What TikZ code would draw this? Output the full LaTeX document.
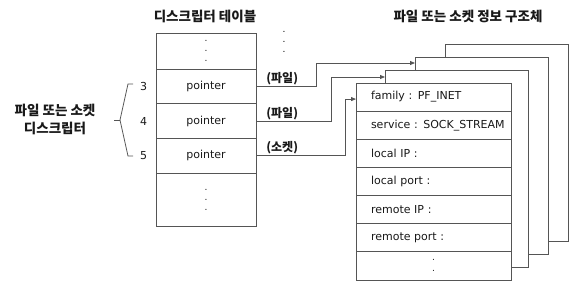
\documentclass[tikz,border=0pt]{standalone}
\usepackage{fontspec}
\newfontfamily\krfont{Noto Sans CJK KR}
\newfontfamily\cellfont{DejaVu Sans}
\usetikzlibrary{arrows.meta,positioning,calc}
\definecolor{edge}{RGB}{85,85,85}
\definecolor{ink}{RGB}{25,25,25}
\tikzset{cell/.style={draw=edge,line width=0.8pt,minimum width=100pt,minimum height=34.7pt,inner sep=0pt,outer sep=0pt,align=center,text=ink,font=\cellfont\fontsize{11}{12}\selectfont},field/.style={draw=edge,line width=0.8pt,fill=white,minimum height=28.14pt,text width=125pt,inner xsep=15pt,inner ysep=0pt,outer sep=0pt,align=left,text=ink,font=\cellfont\fontsize{11}{12}\selectfont},sheet/.style={draw=edge,line width=0.8pt,fill=white,anchor=north west,inner sep=0pt,outer sep=0pt,minimum height=197pt},ptr/.style={-{Triangle[length=5pt,width=4pt]},line width=0.8pt,draw=edge},lbl/.style={font=\krfont\bfseries\fontsize{12}{14}\selectfont,inner sep=1pt,text=ink},title/.style={font=\krfont\bfseries\fontsize{13.5}{18}\selectfont,align=center,text=ink},dotfont/.style={font=\cellfont\fontsize{9}{10}\selectfont}}

\begin{document}
\begin{tikzpicture}[x=1pt,y=-1pt]
\useasboundingbox (0,0) rectangle (580,290);
\node[title] (ttab) at (205,16) {디스크립터 테이블};
\node[title] (tstr) at (468,16) {파일 또는 소켓 정보 구조체};
% descriptor table
\node[cell,minimum height=36pt,dotfont] (top) at (206,51) {.\\.\\.};
\node[cell,below=0pt of top] (p3) {pointer};
\node[cell,below=0pt of p3] (p4) {pointer};
\node[cell,below=0pt of p4] (p5) {pointer};
\node[cell,below=0pt of p5,minimum height=53pt,dotfont] (bot) {.\\.\\.};
\node[dotfont,align=center,inner sep=0pt] (more) at (284,42) {.\\.\\.};
\node[cell,draw=none,left=9pt of p3,minimum width=0pt] (n3) {3};
\node[cell,draw=none,left=9pt of p4,minimum width=0pt] (n4) {4};
\node[cell,draw=none,left=9pt of p5,minimum width=0pt] (n5) {5};
\draw[edge,line width=0.8pt] (133,84) -- (128,84) -- (120,120) -- (128,156) -- (133,156);
\draw[edge,line width=0.8pt] (114,120) -- (120,120);
\node[title] (fd) at (55,119) {파일 또는 소켓\\디스크립터};
% structure sheets, back to front
\node[sheet,minimum width=123pt] (b4) at (445,44) {};
\node[sheet,minimum width=133pt] (b3) at (415,57) {};
\node[sheet,minimum width=143pt] (b2) at (385,70) {};
\node[field,anchor=north west] (f1) at (356,83) {family : PF\_INET};
\node[field,below=0pt of f1] (f2) {\mbox{service : SOCK\_STREAM}};
\node[field,below=0pt of f2] (f3) {local IP :};
\node[field,below=0pt of f3] (f4) {local port :};
\node[field,below=0pt of f4] (f5) {remote IP :};
\node[field,below=0pt of f5] (f6) {remote port :};
\node[field,below=0pt of f6,align=center,font=\cellfont\fontsize{9}{11}\selectfont] (f7) {.\\.};
\coordinate (in3) at ($(b3.north west)+(0,6)$);
\coordinate (in2) at ($(b2.north west)+(0,7)$);
% pointers
\draw[ptr] (p3.east) -- node[lbl,pos=0,anchor=south west,xshift=9pt] {(파일)} ++(60,0) |- (in3);
\draw[ptr] (p4.east) -- node[lbl,pos=0,anchor=south west,xshift=9pt] {(파일)} ++(75,0) |- (in2);
\draw[ptr] (p5.east) -- node[lbl,pos=0,anchor=south west,xshift=9pt] {(소켓)} ++(89,0) |- ($(f1.west)+(0,2)$);
\end{tikzpicture}
\end{document}
